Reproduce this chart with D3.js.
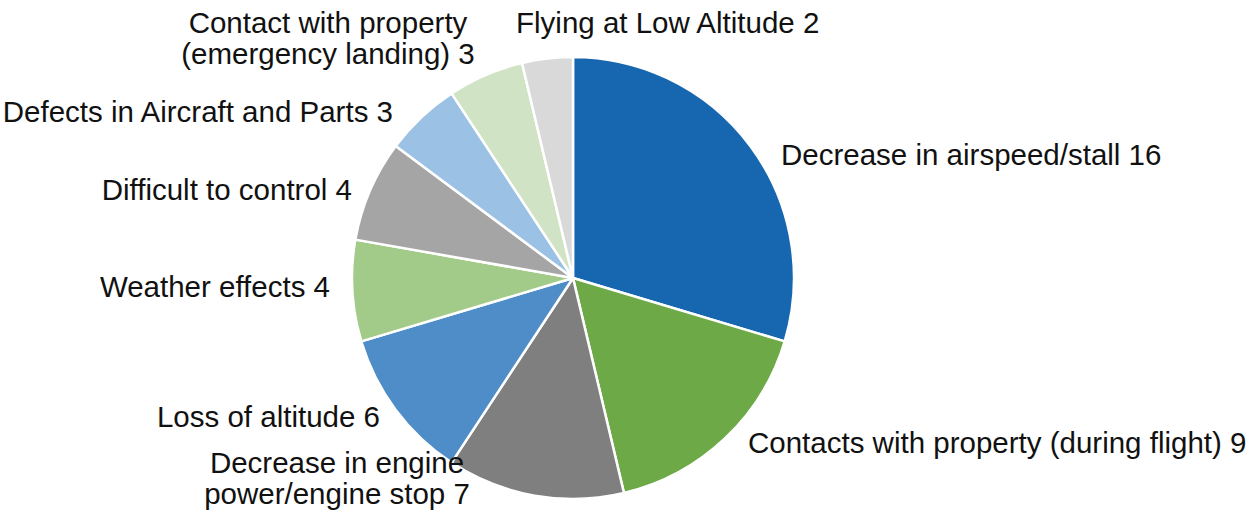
<!DOCTYPE html>
<html>
<head>
<meta charset="utf-8">
<script src="https://cdn.jsdelivr.net/npm/d3@7"></script>
<style>
  html, body { margin: 0; padding: 0; background: #ffffff; }
  svg { display: block; }
  text { font-family: "Liberation Sans", Arial, sans-serif; fill: #111; }
</style>
</head>
<body>
<svg id="chart" width="1257" height="529"></svg>
<script>
// Accident causes and counts (clockwise from 12 o'clock)
const categories = [
  "Decrease in airspeed/stall",
  "Contacts with property (during flight)",
  "Decrease in engine power/engine stop",
  "Loss of altitude",
  "Weather effects",
  "Difficult to control",
  "Defects in Aircraft and Parts",
  "Contact with property (emergency landing)",
  "Flying at Low Altitude"
];
const counts = [16, 9, 7, 6, 4, 4, 3, 3, 2];

// Label text, broken into lines where the label wraps
const labelLines = [
  ["Decrease in airspeed/stall 16"],
  ["Contacts with property (during flight) 9"],
  ["Decrease in engine", "power/engine stop 7"],
  ["Loss of altitude 6"],
  ["Weather effects 4"],
  ["Difficult to control 4"],
  ["Defects in Aircraft and Parts 3"],
  ["Contact with property", "(emergency landing) 3"],
  ["Flying at Low Altitude 2"]
];

const colors = ["#1766b0", "#6ea947", "#7f7f7f", "#4f8dc8", "#a2ca88",
                "#a5a5a5", "#9bc1e4", "#d0e3c4", "#d9d9d9"];

// Label anchor placement (x, baseline y, text-anchor)
const labelPlacement = [
  [781, 165, "start"],
  [748, 453, "start"],
  [337, 473, "middle"],
  [380, 427, "end"],
  [330, 297, "end"],
  [352, 200, "end"],
  [393, 122, "end"],
  [328, 33, "middle"],
  [516, 33, "start"]
];

const cx = 573, cy = 278, radius = 221;
const fontSize = 29.5, lineHeight = 31;

const svg = d3.select("#chart");
const g = svg.append("g").attr("transform", `translate(${cx},${cy})`);

const data = categories.map((c, i) => ({ name: c, value: counts[i], i }));

const pie = d3.pie().value(d => d.value).sort(null);
const arc = d3.arc().innerRadius(0).outerRadius(radius);
const colour = d3.scaleOrdinal().domain(categories).range(colors);

g.selectAll("path.slice")
  .data(pie(data))
  .join("path")
  .attr("class", "slice")
  .attr("d", arc)
  .attr("fill", d => colour(d.data.name))
  .attr("stroke", "#ffffff")
  .attr("stroke-width", 2.5)
  .attr("stroke-linejoin", "round");

const labels = svg.append("g")
  .selectAll("text")
  .data(data)
  .join("text")
  .attr("x", d => labelPlacement[d.i][0])
  .attr("y", d => labelPlacement[d.i][1])
  .attr("text-anchor", d => labelPlacement[d.i][2])
  .style("font-size", fontSize + "px");

labels.selectAll("tspan")
  .data(d => labelLines[d.i].map((t, k) => ({ t, k, x: labelPlacement[d.i][0] })))
  .join("tspan")
  .attr("x", d => d.x)
  .attr("dy", d => d.k === 0 ? 0 : lineHeight)
  .text(d => d.t);
</script>
</body>
</html>
